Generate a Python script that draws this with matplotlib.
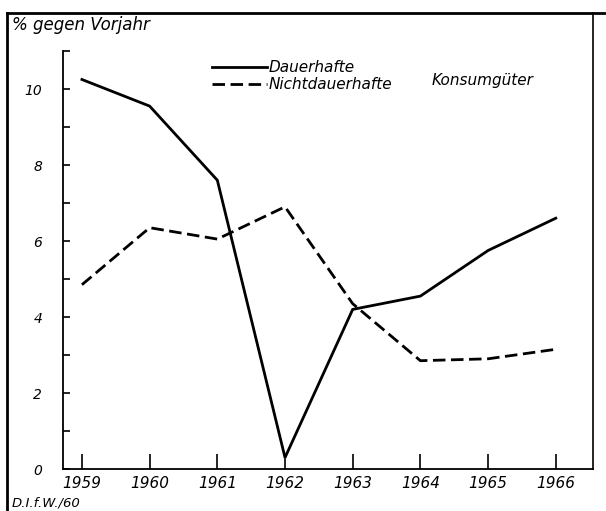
import matplotlib
matplotlib.use("Agg")
import matplotlib.pyplot as plt
from matplotlib.lines import Line2D

# Jahre und Veränderung gegen Vorjahr in %
jahre = [1959, 1960, 1961, 1962, 1963, 1964, 1965, 1966]
dauerhafte = [10.25, 9.55, 7.6, 0.3, 4.2, 4.55, 5.75, 6.6]
nichtdauerhafte = [4.85, 6.35, 6.05, 6.9, 4.35, 2.85, 2.9, 3.15]

y_ticks = list(range(0, 12))
y_labels = ["0", "", "2", "", "4", "", "6", "", "8", "", "10", ""]

plt.rcParams['font.family'] = ['DejaVu Sans']
plt.rcParams['font.style'] = 'italic'

fig = plt.figure(figsize=(6.06, 5.11), dpi=100)
ax = fig.add_axes([63 / 606, 1 - 469 / 511, (593 - 63) / 606, (469 - 51) / 511])

ax.plot(jahre, dauerhafte, color='black', lw=2.0, solid_joinstyle='miter',
        label='Dauerhafte')
ax.plot(jahre, nichtdauerhafte, color='black', lw=2.0, dashes=(4.5, 2),
        label='Nichtdauerhafte')

ax.set_xlim(1958.72, 1966.55)
ax.set_ylim(0, 11)
ax.set_xticks(jahre)
ax.set_xticklabels([str(j) for j in jahre], fontsize=11, style='italic')
ax.set_yticks(y_ticks)
ax.set_yticklabels(y_labels, fontsize=10, style='italic')

ax.tick_params(axis='x', direction='in', length=11, width=1.2, pad=5)
ax.tick_params(axis='y', direction='in', length=5, width=1.2, pad=15)

for s in ['top', 'right']:
    ax.spines[s].set_visible(False)
for s in ['left', 'bottom']:
    ax.spines[s].set_linewidth(1.3)

leg = fig.legend(loc='upper left', bbox_to_anchor=(212 / 606, 1 - 60 / 511),
                 frameon=False, fontsize=11, handlelength=3.6, handletextpad=0.1,
                 labelspacing=0.15, borderpad=0, borderaxespad=0)
fig.text(432 / 606, 1 - 80 / 511, 'Konsumgüter', fontsize=11, style='italic',
         ha='left', va='center')

fig.text(12 / 606, 1 - 25 / 511, '% gegen Vorjahr', fontsize=12, style='italic',
         ha='left', va='center')
fig.text(12 / 606, 1 - 503 / 511, 'D.I.f.W./60', fontsize=9.5, style='italic',
         ha='left', va='center')

# Rahmen
fig.add_artist(Line2D([7 / 606, 7 / 606], [1 - 13 / 511, 0], color='black', lw=2,
                      transform=fig.transFigure))
fig.add_artist(Line2D([7 / 606, 1], [1 - 13 / 511, 1 - 13 / 511], color='black', lw=2,
                      transform=fig.transFigure))
fig.add_artist(Line2D([593 / 606, 593 / 606], [1 - 13 / 511, 1 - 469 / 511],
                      color='black', lw=1.2, transform=fig.transFigure))

fig.savefig('out.png', dpi=100)
